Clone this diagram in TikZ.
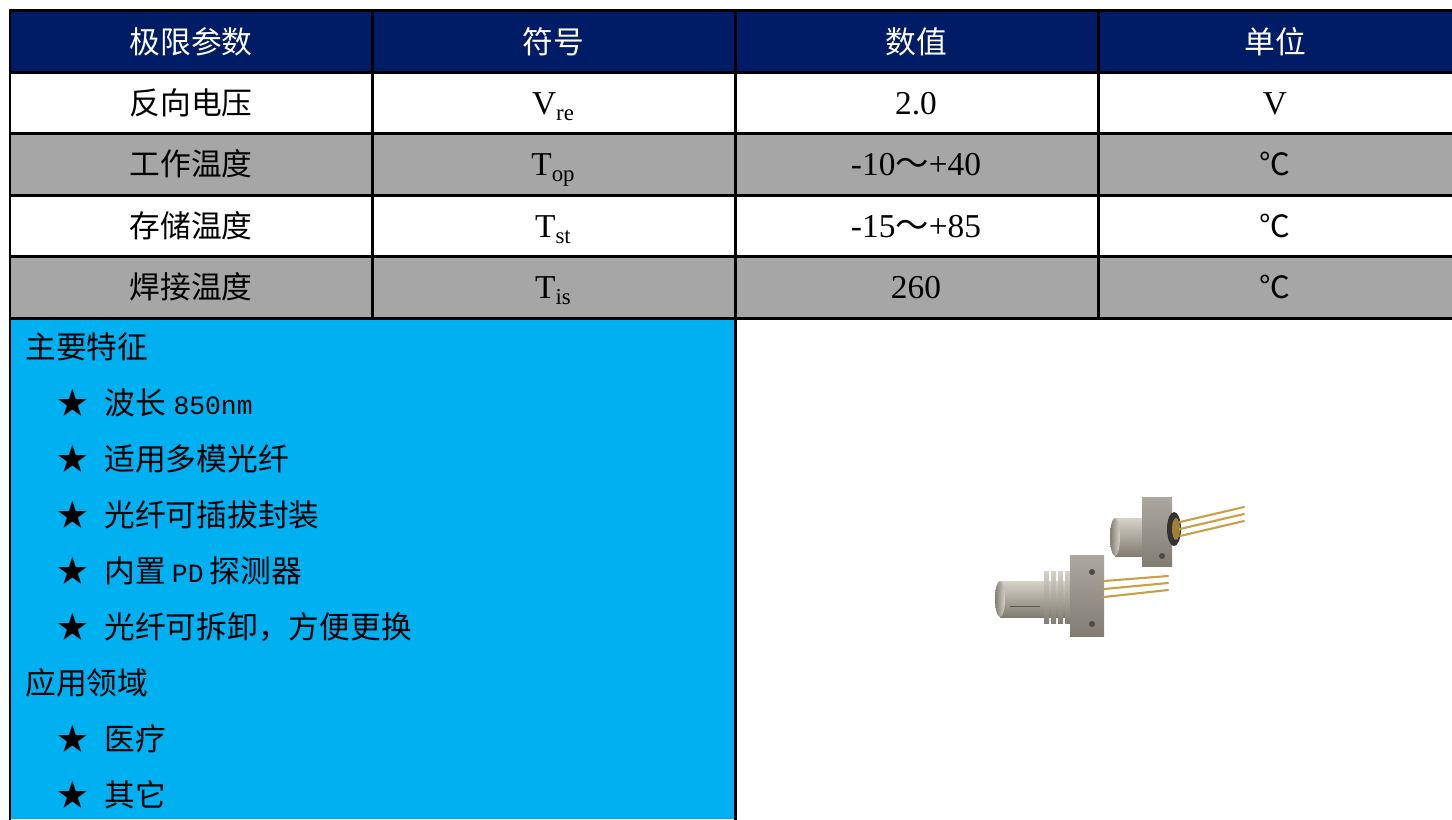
\documentclass[tikz,border=0pt]{standalone}
\usepackage{fontspec}
\setmainfont{Liberation Serif}
\newfontfamily\cjk{Noto Sans CJK SC}
\newfontfamily\monofnt{Liberation Mono}
\definecolor{headnavy}{RGB}{0,28,102}
\definecolor{rowgray}{RGB}{166,166,166}
\definecolor{panelblue}{RGB}{0,176,240}
\definecolor{pingold}{RGB}{200,160,70}
\definecolor{steellight}{RGB}{215,210,200}
\definecolor{steeldark}{RGB}{130,125,115}
\tikzset{
	gridline/.style={line width=0.6mm, line cap=rect},
	headtext/.style={font=\cjk\fontsize{17.5}{20}\selectfont, text=white},
	celltext/.style={font=\cjk\fontsize{17.5}{20}\selectfont},
	numtext/.style={font=\fontsize{19}{22}\selectfont, anchor=base},
	itemtext/.style={font=\cjk\fontsize{17.5}{20}\selectfont, anchor=west, inner sep=0pt},
	pin/.style={line width=1.2pt, color=pingold, line cap=round},
}
\newcommand{\lowsub}[1]{\raisebox{-0.4ex}{\fontsize{13}{13}\selectfont #1}}
\newcommand{\latinpart}[1]{{\monofnt\fontsize{15}{18}\selectfont #1}}

\begin{document}
\begin{tikzpicture}[x=0.02cm, y=-0.02cm]
			%%%%% START %%%%%
			\useasboundingbox (0, 0) rectangle (1452, 819);
			
			\fill[headnavy] (10, 10) rectangle (1452, 72);
			\fill[white] (10, 72) rectangle (1452, 133);
			\fill[rowgray] (10, 133) rectangle (1452, 195);
			\fill[white] (10, 195) rectangle (1452, 256);
			\fill[rowgray] (10, 256) rectangle (1452, 318);
			\fill[panelblue] (10, 318) rectangle (735, 819);
			
			\draw[gridline] (10, 10) -- (1452, 10);
			\draw[gridline] (10, 72) -- (1452, 72);
			\draw[gridline] (10, 133) -- (1452, 133);
			\draw[gridline] (10, 195) -- (1452, 195);
			\draw[gridline] (10, 256) -- (1452, 256);
			\draw[gridline] (10, 318) -- (1452, 318);
			\draw[gridline] (10, 10) -- (10, 819);
			\draw[gridline] (372, 10) -- (372, 318);
			\draw[gridline] (735, 10) -- (735, 819);
			\draw[gridline] (1098, 10) -- (1098, 318);
			
			% header
			\node[headtext] (hpar) at (191, 42) {极限参数};
			\node[headtext] (hsym) at (553, 42) {符号};
			\node[headtext] (hval) at (916, 42) {数值};
			\node[headtext] (hunit) at (1275, 42) {单位};
			
			% rows
			\node[celltext] (par1) at (191, 103) {反向电压};
			\node[numtext] (sym1) at (553, 114) {V\lowsub{re}};
			\node[numtext] (val1) at (916, 114) {2.0};
			\node[numtext] (unit1) at (1275, 114) {V};
			
			\node[celltext] (par2) at (191, 164) {工作温度};
			\node[numtext] (sym2) at (553, 175) {T\lowsub{op}};
			\node[numtext] (val2) at (916, 175) {-10{\cjk～}+40};
			\node[celltext] (unit2) at (1275, 164) {℃};
			
			\node[celltext] (par3) at (191, 226) {存储温度};
			\node[numtext] (sym3) at (553, 237) {T\lowsub{st}};
			\node[numtext] (val3) at (916, 237) {-15{\cjk～}+85};
			\node[celltext] (unit3) at (1275, 226) {℃};
			
			\node[celltext] (par4) at (191, 287) {焊接温度};
			\node[numtext] (sym4) at (553, 298) {T\lowsub{is}};
			\node[numtext] (val4) at (916, 298) {260};
			\node[celltext] (unit4) at (1275, 287) {℃};
			
			% features panel
			\node[itemtext] (feat) at (25, 347) {主要特征};
			\node[itemtext] (star1) at (57, 403) {★};
			\node[itemtext] (feat1) at (104, 403) {波长\hspace{0.25em}\latinpart{850nm}};
			\node[itemtext] (star2) at (57, 459) {★};
			\node[itemtext] (feat2) at (104, 459) {适用多模光纤};
			\node[itemtext] (star3) at (57, 515) {★};
			\node[itemtext] (feat3) at (104, 515) {光纤可插拔封装};
			\node[itemtext] (star4) at (57, 571) {★};
			\node[itemtext] (feat4) at (104, 571) {内置\hspace{0.2em}\latinpart{PD}\hspace{0.2em}探测器};
			\node[itemtext] (star5) at (57, 627) {★};
			\node[itemtext] (feat5) at (104, 627) {光纤可拆卸，方便更换};
			\node[itemtext] (appl) at (25, 683) {应用领域};
			\node[itemtext] (star6) at (57, 739) {★};
			\node[itemtext] (appl1) at (104, 739) {医疗};
			\node[itemtext] (star7) at (57, 795) {★};
			\node[itemtext] (appl2) at (104, 795) {其它};
			
			% photo: lower receptacle
			\shade[top color=steellight, bottom color=steeldark] (1000, 581) rectangle (1072, 617);
			\shade[left color=steeldark, right color=steellight] (1000, 599) ellipse (5 and 18);
			\draw[steeldark!70!black, line width=0.5pt] (1010, 606) -- (1040, 606);
			\shade[top color=steellight, bottom color=steeldark] (1044, 571) rectangle (1049, 623);
			\shade[top color=steellight, bottom color=steeldark] (1051, 571) rectangle (1056, 623);
			\shade[top color=steellight, bottom color=steeldark] (1058, 571) rectangle (1063, 623);
			\shade[top color=steellight, bottom color=steeldark] (1065, 571) rectangle (1070, 623);
			\shade[top color=steellight!80!black, bottom color=steeldark] (1070, 555) rectangle (1104, 636);
			\fill[steeldark!60!black] (1092, 572) circle (3);
			\fill[steeldark!60!black] (1092, 624) circle (3);
			\draw[pin] (1104, 581) -- (1168, 576);
			\draw[pin] (1104, 589) -- (1168, 583);
			\draw[pin] (1104, 597) -- (1168, 590);
			
			% photo: upper receptacle
			\shade[top color=steellight, bottom color=steeldark] (1115, 518) rectangle (1148, 556);
			\shade[left color=steeldark, right color=steellight] (1115, 537) ellipse (5 and 19);
			\shade[top color=steellight!80!black, bottom color=steeldark] (1142, 497) rectangle (1172, 566);
			\fill[steeldark!60!black] (1162, 556) circle (3);
			\fill[black!80] (1174, 529) ellipse (7 and 17);
			\fill[pingold!80!black] (1176, 529) ellipse (4 and 11);
			\draw[pin] (1180, 522) -- (1244, 507);
			\draw[pin] (1180, 529) -- (1244, 514);
			\draw[pin] (1180, 536) -- (1244, 521);
			
			%%%%% END %%%%%
\end{tikzpicture}
\end{document}
